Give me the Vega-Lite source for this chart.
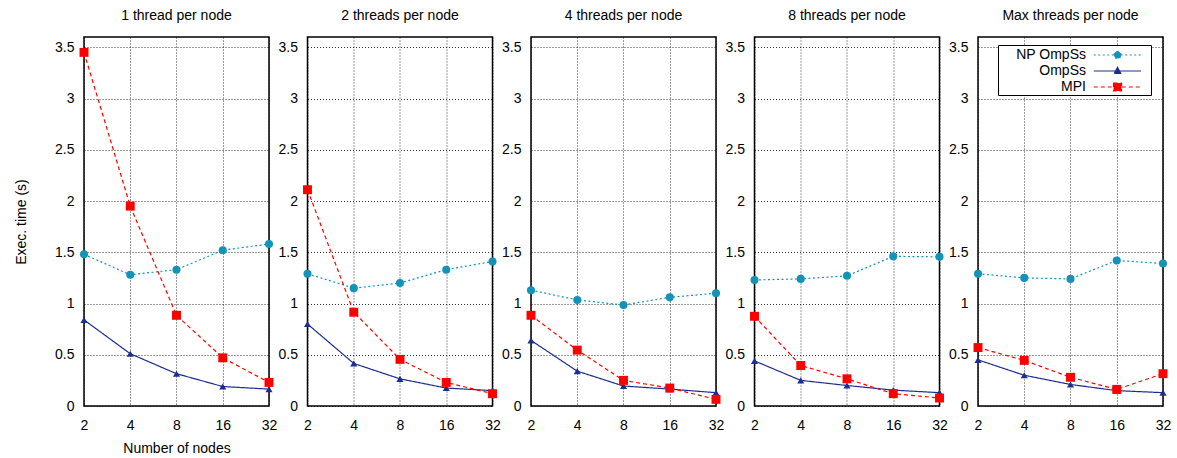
{
  "$schema": "https://vega.github.io/schema/vega-lite/v6.json",
  "autosize": {"type": "pad"},
  "padding": {"left": 13, "top": 8, "right": 5, "bottom": 5},
  "background": "white",
  "data": {"values": [
    {"panel": "1 thread per node", "series": "NP OmpSs", "nodes": 2, "time": 1.48},
    {"panel": "1 thread per node", "series": "NP OmpSs", "nodes": 4, "time": 1.28},
    {"panel": "1 thread per node", "series": "NP OmpSs", "nodes": 8, "time": 1.33},
    {"panel": "1 thread per node", "series": "NP OmpSs", "nodes": 16, "time": 1.52},
    {"panel": "1 thread per node", "series": "NP OmpSs", "nodes": 32, "time": 1.58},
    {"panel": "1 thread per node", "series": "OmpSs", "nodes": 2, "time": 0.84},
    {"panel": "1 thread per node", "series": "OmpSs", "nodes": 4, "time": 0.51},
    {"panel": "1 thread per node", "series": "OmpSs", "nodes": 8, "time": 0.315},
    {"panel": "1 thread per node", "series": "OmpSs", "nodes": 16, "time": 0.19},
    {"panel": "1 thread per node", "series": "OmpSs", "nodes": 32, "time": 0.165},
    {"panel": "1 thread per node", "series": "MPI", "nodes": 2, "time": 3.45},
    {"panel": "1 thread per node", "series": "MPI", "nodes": 4, "time": 1.95},
    {"panel": "1 thread per node", "series": "MPI", "nodes": 8, "time": 0.885},
    {"panel": "1 thread per node", "series": "MPI", "nodes": 16, "time": 0.47},
    {"panel": "1 thread per node", "series": "MPI", "nodes": 32, "time": 0.23},
    {"panel": "2 threads per node", "series": "NP OmpSs", "nodes": 2, "time": 1.29},
    {"panel": "2 threads per node", "series": "NP OmpSs", "nodes": 4, "time": 1.15},
    {"panel": "2 threads per node", "series": "NP OmpSs", "nodes": 8, "time": 1.2},
    {"panel": "2 threads per node", "series": "NP OmpSs", "nodes": 16, "time": 1.33},
    {"panel": "2 threads per node", "series": "NP OmpSs", "nodes": 32, "time": 1.41},
    {"panel": "2 threads per node", "series": "OmpSs", "nodes": 2, "time": 0.8},
    {"panel": "2 threads per node", "series": "OmpSs", "nodes": 4, "time": 0.415},
    {"panel": "2 threads per node", "series": "OmpSs", "nodes": 8, "time": 0.265},
    {"panel": "2 threads per node", "series": "OmpSs", "nodes": 16, "time": 0.175},
    {"panel": "2 threads per node", "series": "OmpSs", "nodes": 32, "time": 0.15},
    {"panel": "2 threads per node", "series": "MPI", "nodes": 2, "time": 2.11},
    {"panel": "2 threads per node", "series": "MPI", "nodes": 4, "time": 0.915},
    {"panel": "2 threads per node", "series": "MPI", "nodes": 8, "time": 0.455},
    {"panel": "2 threads per node", "series": "MPI", "nodes": 16, "time": 0.23},
    {"panel": "2 threads per node", "series": "MPI", "nodes": 32, "time": 0.12},
    {"panel": "4 threads per node", "series": "NP OmpSs", "nodes": 2, "time": 1.13},
    {"panel": "4 threads per node", "series": "NP OmpSs", "nodes": 4, "time": 1.035},
    {"panel": "4 threads per node", "series": "NP OmpSs", "nodes": 8, "time": 0.985},
    {"panel": "4 threads per node", "series": "NP OmpSs", "nodes": 16, "time": 1.06},
    {"panel": "4 threads per node", "series": "NP OmpSs", "nodes": 32, "time": 1.1},
    {"panel": "4 threads per node", "series": "OmpSs", "nodes": 2, "time": 0.64},
    {"panel": "4 threads per node", "series": "OmpSs", "nodes": 4, "time": 0.34},
    {"panel": "4 threads per node", "series": "OmpSs", "nodes": 8, "time": 0.195},
    {"panel": "4 threads per node", "series": "OmpSs", "nodes": 16, "time": 0.165},
    {"panel": "4 threads per node", "series": "OmpSs", "nodes": 32, "time": 0.13},
    {"panel": "4 threads per node", "series": "MPI", "nodes": 2, "time": 0.885},
    {"panel": "4 threads per node", "series": "MPI", "nodes": 4, "time": 0.545},
    {"panel": "4 threads per node", "series": "MPI", "nodes": 8, "time": 0.25},
    {"panel": "4 threads per node", "series": "MPI", "nodes": 16, "time": 0.175},
    {"panel": "4 threads per node", "series": "MPI", "nodes": 32, "time": 0.065},
    {"panel": "8 threads per node", "series": "NP OmpSs", "nodes": 2, "time": 1.23},
    {"panel": "8 threads per node", "series": "NP OmpSs", "nodes": 4, "time": 1.24},
    {"panel": "8 threads per node", "series": "NP OmpSs", "nodes": 8, "time": 1.27},
    {"panel": "8 threads per node", "series": "NP OmpSs", "nodes": 16, "time": 1.46},
    {"panel": "8 threads per node", "series": "NP OmpSs", "nodes": 32, "time": 1.455},
    {"panel": "8 threads per node", "series": "OmpSs", "nodes": 2, "time": 0.44},
    {"panel": "8 threads per node", "series": "OmpSs", "nodes": 4, "time": 0.25},
    {"panel": "8 threads per node", "series": "OmpSs", "nodes": 8, "time": 0.2},
    {"panel": "8 threads per node", "series": "OmpSs", "nodes": 16, "time": 0.155},
    {"panel": "8 threads per node", "series": "OmpSs", "nodes": 32, "time": 0.13},
    {"panel": "8 threads per node", "series": "MPI", "nodes": 2, "time": 0.875},
    {"panel": "8 threads per node", "series": "MPI", "nodes": 4, "time": 0.395},
    {"panel": "8 threads per node", "series": "MPI", "nodes": 8, "time": 0.265},
    {"panel": "8 threads per node", "series": "MPI", "nodes": 16, "time": 0.12},
    {"panel": "8 threads per node", "series": "MPI", "nodes": 32, "time": 0.078},
    {"panel": "Max threads per node", "series": "NP OmpSs", "nodes": 2, "time": 1.29},
    {"panel": "Max threads per node", "series": "NP OmpSs", "nodes": 4, "time": 1.25},
    {"panel": "Max threads per node", "series": "NP OmpSs", "nodes": 8, "time": 1.24},
    {"panel": "Max threads per node", "series": "NP OmpSs", "nodes": 16, "time": 1.42},
    {"panel": "Max threads per node", "series": "NP OmpSs", "nodes": 32, "time": 1.39},
    {"panel": "Max threads per node", "series": "OmpSs", "nodes": 2, "time": 0.45},
    {"panel": "Max threads per node", "series": "OmpSs", "nodes": 4, "time": 0.3},
    {"panel": "Max threads per node", "series": "OmpSs", "nodes": 8, "time": 0.21},
    {"panel": "Max threads per node", "series": "OmpSs", "nodes": 16, "time": 0.15},
    {"panel": "Max threads per node", "series": "OmpSs", "nodes": 32, "time": 0.13},
    {"panel": "Max threads per node", "series": "MPI", "nodes": 2, "time": 0.57},
    {"panel": "Max threads per node", "series": "MPI", "nodes": 4, "time": 0.445},
    {"panel": "Max threads per node", "series": "MPI", "nodes": 8, "time": 0.28},
    {"panel": "Max threads per node", "series": "MPI", "nodes": 16, "time": 0.162},
    {"panel": "Max threads per node", "series": "MPI", "nodes": 32, "time": 0.315}
  ]},
  "spacing": 38.5,
  "bounds": "flush",
  "hconcat": [
    {
      "title": "1 thread per node",
      "width": 185, "height": 369,
      "transform": [{"filter": "datum.panel === '1 thread per node'"}],
      "encoding": {
        "x": {"field": "nodes", "type": "quantitative", "scale": {"type": "log", "base": 2, "domain": [2, 32], "nice": false}, "axis": {"values": [2, 4, 8, 16, 32], "format": "d", "title": "Number of nodes"}},
        "y": {"field": "time", "type": "quantitative", "scale": {"domain": [0, 3.6], "nice": false, "zero": false}, "axis": {"values": [0, 0.5, 1, 1.5, 2, 2.5, 3, 3.5], "format": "~g", "title": "Exec. time (s)"}}
      },
      "layer": [
        {"mark": {"type": "line", "strokeWidth": 1.2},
         "encoding": {
           "color": {"field": "series", "type": "nominal", "scale": {"domain": ["NP OmpSs", "OmpSs", "MPI"], "range": ["#1493b8", "#1c2e8f", "#ff0000"]}},
           "strokeDash": {"field": "series", "type": "nominal", "scale": {"domain": ["MPI", "NP OmpSs", "OmpSs"], "range": [[4, 3], [2, 2.5], [1, 0]]}, "legend": null}}},
        {"mark": {"type": "point", "filled": true, "opacity": 1},
         "encoding": {
           "color": {"field": "series", "type": "nominal", "scale": {"domain": ["NP OmpSs", "OmpSs", "MPI"], "range": ["#1493b8", "#1c2e8f", "#ff0000"]}},
           "shape": {"field": "series", "type": "nominal", "scale": {"domain": ["MPI", "NP OmpSs", "OmpSs"], "range": ["square", "circle", "triangle-up"]}, "legend": null},
           "size": {"field": "series", "type": "nominal", "scale": {"domain": ["MPI", "NP OmpSs", "OmpSs"], "range": [80, 50, 36]}, "legend": null}}}
      ]
    },
    {
      "title": "2 threads per node",
      "width": 185, "height": 369,
      "transform": [{"filter": "datum.panel === '2 threads per node'"}],
      "encoding": {
        "x": {"field": "nodes", "type": "quantitative", "scale": {"type": "log", "base": 2, "domain": [2, 32], "nice": false}, "axis": {"values": [2, 4, 8, 16, 32], "format": "d", "title": null}},
        "y": {"field": "time", "type": "quantitative", "scale": {"domain": [0, 3.6], "nice": false, "zero": false}, "axis": {"values": [0, 0.5, 1, 1.5, 2, 2.5, 3, 3.5], "format": "~g", "title": null}}
      },
      "layer": [
        {"mark": {"type": "line", "strokeWidth": 1.2},
         "encoding": {
           "color": {"field": "series", "type": "nominal", "scale": {"domain": ["NP OmpSs", "OmpSs", "MPI"], "range": ["#1493b8", "#1c2e8f", "#ff0000"]}},
           "strokeDash": {"field": "series", "type": "nominal", "scale": {"domain": ["MPI", "NP OmpSs", "OmpSs"], "range": [[4, 3], [2, 2.5], [1, 0]]}, "legend": null}}},
        {"mark": {"type": "point", "filled": true, "opacity": 1},
         "encoding": {
           "color": {"field": "series", "type": "nominal", "scale": {"domain": ["NP OmpSs", "OmpSs", "MPI"], "range": ["#1493b8", "#1c2e8f", "#ff0000"]}},
           "shape": {"field": "series", "type": "nominal", "scale": {"domain": ["MPI", "NP OmpSs", "OmpSs"], "range": ["square", "circle", "triangle-up"]}, "legend": null},
           "size": {"field": "series", "type": "nominal", "scale": {"domain": ["MPI", "NP OmpSs", "OmpSs"], "range": [80, 50, 36]}, "legend": null}}}
      ]
    },
    {
      "title": "4 threads per node",
      "width": 185, "height": 369,
      "transform": [{"filter": "datum.panel === '4 threads per node'"}],
      "encoding": {
        "x": {"field": "nodes", "type": "quantitative", "scale": {"type": "log", "base": 2, "domain": [2, 32], "nice": false}, "axis": {"values": [2, 4, 8, 16, 32], "format": "d", "title": null}},
        "y": {"field": "time", "type": "quantitative", "scale": {"domain": [0, 3.6], "nice": false, "zero": false}, "axis": {"values": [0, 0.5, 1, 1.5, 2, 2.5, 3, 3.5], "format": "~g", "title": null}}
      },
      "layer": [
        {"mark": {"type": "line", "strokeWidth": 1.2},
         "encoding": {
           "color": {"field": "series", "type": "nominal", "scale": {"domain": ["NP OmpSs", "OmpSs", "MPI"], "range": ["#1493b8", "#1c2e8f", "#ff0000"]}},
           "strokeDash": {"field": "series", "type": "nominal", "scale": {"domain": ["MPI", "NP OmpSs", "OmpSs"], "range": [[4, 3], [2, 2.5], [1, 0]]}, "legend": null}}},
        {"mark": {"type": "point", "filled": true, "opacity": 1},
         "encoding": {
           "color": {"field": "series", "type": "nominal", "scale": {"domain": ["NP OmpSs", "OmpSs", "MPI"], "range": ["#1493b8", "#1c2e8f", "#ff0000"]}},
           "shape": {"field": "series", "type": "nominal", "scale": {"domain": ["MPI", "NP OmpSs", "OmpSs"], "range": ["square", "circle", "triangle-up"]}, "legend": null},
           "size": {"field": "series", "type": "nominal", "scale": {"domain": ["MPI", "NP OmpSs", "OmpSs"], "range": [80, 50, 36]}, "legend": null}}}
      ]
    },
    {
      "title": "8 threads per node",
      "width": 185, "height": 369,
      "transform": [{"filter": "datum.panel === '8 threads per node'"}],
      "encoding": {
        "x": {"field": "nodes", "type": "quantitative", "scale": {"type": "log", "base": 2, "domain": [2, 32], "nice": false}, "axis": {"values": [2, 4, 8, 16, 32], "format": "d", "title": null}},
        "y": {"field": "time", "type": "quantitative", "scale": {"domain": [0, 3.6], "nice": false, "zero": false}, "axis": {"values": [0, 0.5, 1, 1.5, 2, 2.5, 3, 3.5], "format": "~g", "title": null}}
      },
      "layer": [
        {"mark": {"type": "line", "strokeWidth": 1.2},
         "encoding": {
           "color": {"field": "series", "type": "nominal", "scale": {"domain": ["NP OmpSs", "OmpSs", "MPI"], "range": ["#1493b8", "#1c2e8f", "#ff0000"]}},
           "strokeDash": {"field": "series", "type": "nominal", "scale": {"domain": ["MPI", "NP OmpSs", "OmpSs"], "range": [[4, 3], [2, 2.5], [1, 0]]}, "legend": null}}},
        {"mark": {"type": "point", "filled": true, "opacity": 1},
         "encoding": {
           "color": {"field": "series", "type": "nominal", "scale": {"domain": ["NP OmpSs", "OmpSs", "MPI"], "range": ["#1493b8", "#1c2e8f", "#ff0000"]}},
           "shape": {"field": "series", "type": "nominal", "scale": {"domain": ["MPI", "NP OmpSs", "OmpSs"], "range": ["square", "circle", "triangle-up"]}, "legend": null},
           "size": {"field": "series", "type": "nominal", "scale": {"domain": ["MPI", "NP OmpSs", "OmpSs"], "range": [80, 50, 36]}, "legend": null}}}
      ]
    },
    {
      "title": "Max threads per node",
      "width": 185, "height": 369,
      "transform": [{"filter": "datum.panel === 'Max threads per node'"}],
      "encoding": {
        "x": {"field": "nodes", "type": "quantitative", "scale": {"type": "log", "base": 2, "domain": [2, 32], "nice": false}, "axis": {"values": [2, 4, 8, 16, 32], "format": "d", "title": null}},
        "y": {"field": "time", "type": "quantitative", "scale": {"domain": [0, 3.6], "nice": false, "zero": false}, "axis": {"values": [0, 0.5, 1, 1.5, 2, 2.5, 3, 3.5], "format": "~g", "title": null}}
      },
      "layer": [
        {"mark": {"type": "line", "strokeWidth": 1.2},
         "encoding": {
           "color": {"field": "series", "type": "nominal", "scale": {"domain": ["NP OmpSs", "OmpSs", "MPI"], "range": ["#1493b8", "#1c2e8f", "#ff0000"]},
             "legend": {
               "orient": "none", "legendX": 914, "legendY": 8, "direction": "vertical",
               "title": null, "padding": 1,
               "fillColor": "white", "strokeColor": "black",
               "symbolSize": 256, "symbolStrokeWidth": 1.2,
               "labelAlign": "right", "labelOffset": 69, "labelFontSize": 14, "labelFont": "Liberation Sans", "labelColor": "black", "labelLimit": 200,
               "rowPadding": 0,
               "encode": {
                 "symbols": {
                   "update": {
                     "shape": {"signal": "datum.value === 'MPI' ? 'M10.72,0L16.62,0M13.19,-0.5L14.19,-0.5L14.19,0.5L13.19,0.5ZM17.35,0' : datum.value === 'OmpSs' ? 'M10.72,0L16.62,0M13.29,0.3L14.09,0.3L13.69,-0.45ZM17.35,0' : 'M10.72,0L16.62,0M14.13,0A0.44,0.44,0,1,0,13.25,0A0.44,0.44,0,1,0,14.13,0ZM17.35,0'"},
                     "size": {"value": 256},
                     "fill": {"signal": "datum.value === 'MPI' ? '#ff0000' : datum.value === 'OmpSs' ? '#1c2e8f' : '#1493b8'"},
                     "stroke": {"signal": "datum.value === 'MPI' ? '#ff0000' : datum.value === 'OmpSs' ? '#1c2e8f' : '#1493b8'"},
                     "strokeDash": {"signal": "datum.value === 'MPI' ? [4, 3] : datum.value === 'OmpSs' ? [1, 0] : [2, 2.5]"},
                     "strokeWidth": {"value": 1.2},
                     "opacity": {"value": 1}
                   }
                 }
               }
             }},
           "strokeDash": {"field": "series", "type": "nominal", "scale": {"domain": ["MPI", "NP OmpSs", "OmpSs"], "range": [[4, 3], [2, 2.5], [1, 0]]}, "legend": null}}},
        {"mark": {"type": "point", "filled": true, "opacity": 1},
         "encoding": {
           "color": {"field": "series", "type": "nominal", "scale": {"domain": ["NP OmpSs", "OmpSs", "MPI"], "range": ["#1493b8", "#1c2e8f", "#ff0000"]}},
           "shape": {"field": "series", "type": "nominal", "scale": {"domain": ["MPI", "NP OmpSs", "OmpSs"], "range": ["square", "circle", "triangle-up"]}, "legend": null},
           "size": {"field": "series", "type": "nominal", "scale": {"domain": ["MPI", "NP OmpSs", "OmpSs"], "range": [80, 50, 36]}, "legend": null}}}
      ]
    }
  ],
  "config": {
    "font": "Liberation Sans",
    "view": {"stroke": "black", "strokeWidth": 1.5},
    "axis": {"domain": false, "ticks": false, "tickSize": 0, "grid": true, "gridColor": "#000000", "gridDash": [1, 2], "gridWidth": 0.8, "gridOpacity": 1,
      "labelFontSize": 14, "labelColor": "black", "labelFont": "Liberation Sans",
      "titleFontSize": 14, "titleFontWeight": "normal", "titleColor": "black", "titleFont": "Liberation Sans"},
    "axisX": {"labelPadding": 12, "labelFlush": false, "labelOverlap": false, "titlePadding": 9},
    "axisY": {"labelPadding": 10, "titlePadding": 26},
    "title": {"fontSize": 14, "fontWeight": "normal", "font": "Liberation Sans", "color": "black", "offset": 14}
  }
}
